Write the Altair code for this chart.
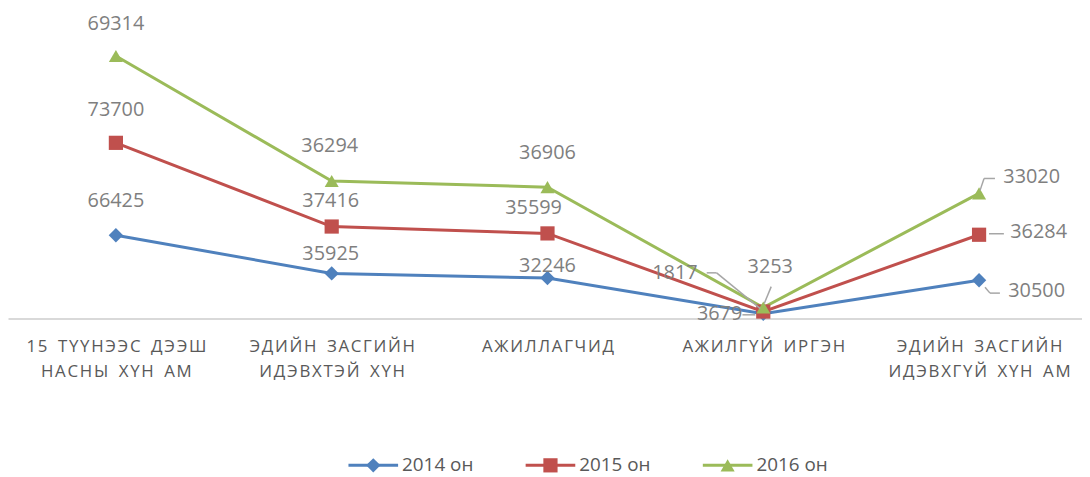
import altair as alt
import pandas as pd

# ---------------- data ----------------
CATEGORIES = [
    "15 ТҮҮНЭЭС ДЭЭШ\nНАСНЫ ХҮН АМ",
    "ЭДИЙН ЗАСГИЙН\nИДЭВХТЭЙ ХҮН",
    "АЖИЛЛАГЧИД",
    "АЖИЛГҮЙ ИРГЭН",
    "ЭДИЙН ЗАСГИЙН\nИДЭВХГҮЙ ХҮН АМ",
]
SERIES = ["2014 он", "2015 он", "2016 он"]
V2014 = [66425, 35925, 32246, 3679, 30500]
V2015 = [73700, 37416, 35599, 1817, 36284]
V2016 = [69314, 36294, 36906, 3253, 33020]
VALUES = [V2014, V2015, V2016]

# ---------------- styles / layout ----------------
COLORS = ["#4F81BD", "#C0504D", "#9BBB59"]
SHAPES = ["diamond", "square", "triangle-up"]
SIZES = [210, 200, 260]
FONT = "Open Sans"

# data-label offsets (dx, dy) from each point, per series / category
LABEL_OFFSETS = [
    [(0, -34), (-1, -20), (0, -12), (-44, 0), (58, 11)],
    [(0, -33), (-1, -26), (-14, -26), (-89, -39), (60, -3)],
    [(0, -32), (-2, -35), (0, -34), (7, -41), (53, -16)],
]
# leader-line segments: (series, category, x1, y1, x2, y2) offsets from the point
LEADERS = [
    (1, 3, -57, -39, -47, -39), (1, 3, -47, -39, -3, -3),
    (2, 3, 8, -21, 1, -4),
    (0, 3, -21, 1, -8, 1),
    (2, 4, 1, -3, 5, -15), (2, 4, 5, -15, 16, -15),
    (1, 4, 10, -1, 25, -1),
    (0, 4, 6, 7, 11, 13), (0, 4, 11, 13, 21, 13),
]


def spaced(label):
    out = []
    for line in label.split("\n"):
        words = ["\u200a".join(w) for w in line.split(" ")]
        out.append("\u200a \u2009\u200a".join(words))
    return "\n".join(out)


CAT_LABELS = [spaced(c) for c in CATEGORIES]

rows = []
for si, s in enumerate(SERIES):
    for ci, c in enumerate(CAT_LABELS):
        rows.append({
            "series": s, "si": si, "ci": ci, "cat": c,
            "value": VALUES[si][ci],
            "label": str(VALUES[si][ci]),
        })
df = pd.DataFrame(rows)
df["cum"] = df.groupby("ci")["value"].cumsum()

X = alt.X(
    "cat:N", sort=CAT_LABELS, title=None,
    scale=alt.Scale(type="point", padding=0.5, range=[0, 1087]),
    axis=alt.Axis(
        labelExpr="split(datum.label, '\\n')",
        labelAngle=0, labelFont=FONT, labelFontSize=17, labelColor="#595959",
        labelPadding=20, labelLineHeight=26, labelFlush=False, labelOverlap=False,
        labelBound=False, labelLimit=400, ticks=False, grid=False,
        domainColor="#D9D9D9", domainWidth=2,
    ),
)
Y = alt.Y("cum:Q", scale=alt.Scale(domain=[0, 240000], nice=False, zero=True), axis=None)
C = alt.Color("series:N", scale=alt.Scale(domain=SERIES, range=COLORS), legend=None)
SH = alt.Shape("series:N", scale=alt.Scale(domain=SERIES, range=SHAPES), legend=None)
SZ = alt.Size("series:N", scale=alt.Scale(domain=SERIES, range=SIZES), legend=None)

base = alt.Chart(df)
lines = base.mark_line(strokeWidth=3).encode(x=X, y=Y, color=C)
points = base.mark_point(filled=True, opacity=1).encode(x=X, y=Y, color=C, shape=SH, size=SZ)

layers = [lines, points]
for si in range(len(SERIES)):
    for ci in range(len(CATEGORIES)):
        dx, dy = LABEL_OFFSETS[si][ci]
        layers.append(
            base.transform_filter(f"datum.si == {si} && datum.ci == {ci}")
            .mark_text(align="center", baseline="middle", dx=dx, dy=dy,
                       font=FONT, fontSize=20, color="#7F7F7F")
            .encode(x=X, y=Y, text="label:N")
        )
for (si, ci, x1, y1, x2, y2) in LEADERS:
    layers.append(
        base.transform_filter(f"datum.si == {si} && datum.ci == {ci}")
        .mark_rule(color="#A6A6A6", strokeWidth=1.5,
                   xOffset=x1, yOffset=y1, x2Offset=x2, y2Offset=y2)
        .encode(x=X, x2="cat:N", y=Y, y2="cum:Q")
    )

main = alt.layer(*layers)

# ---------------- legend ----------------
leg_df = pd.DataFrame({"series": SERIES})
LX = alt.X("series:N", sort=SERIES,
           scale=alt.Scale(type="point", domain=SERIES, padding=0, range=[368, 725]),
           axis=None)
LY = alt.value(451)
leg_base = alt.Chart(leg_df)
leg_line = leg_base.mark_rule(strokeWidth=3, xOffset=-25, x2Offset=25).encode(
    x=LX, x2="series:N", y=LY, color=C)
leg_pt = leg_base.mark_point(filled=True, opacity=1).encode(
    x=LX, y=LY, color=C, shape=SH, size=SZ)
leg_txt = leg_base.mark_text(align="left", baseline="middle", dx=29, font=FONT,
                             fontSize=19, color="#595959").encode(x=LX, y=LY, text="series:N")
legend = alt.layer(leg_line, leg_pt, leg_txt)

chart = (
    alt.layer(main, legend)
    .resolve_scale(x="independent")
    .properties(
        width=1082, height=303,
        autosize=alt.AutoSizeParams(type="none"),
        padding={"left": 0, "top": 8, "right": 0, "bottom": 158},
        background="white",
    )
    .configure_view(stroke=None)
)

chart.save("out.html", embed_options={"renderer": "svg", "actions": False})
